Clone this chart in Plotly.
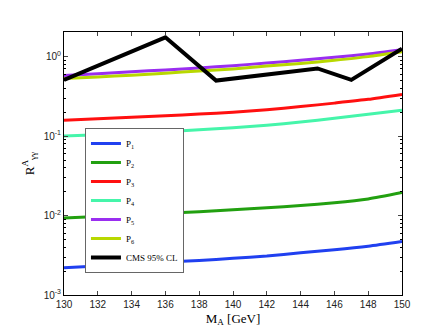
import plotly.graph_objs as go

# masses (GeV)
mass = [130, 132, 134, 136, 138, 140, 142, 144, 146, 148, 150]

p1 = [0.0022, 0.00232, 0.00245, 0.0026, 0.00272, 0.0029, 0.0031, 0.0034, 0.0037, 0.0041, 0.0047]
p2 = [0.0093, 0.0097, 0.0101, 0.0106, 0.0112, 0.0118, 0.0125, 0.0134, 0.0145, 0.0162, 0.0195]
p3 = [0.158, 0.165, 0.172, 0.180, 0.189, 0.200, 0.215, 0.235, 0.26, 0.29, 0.335]
p4 = [0.100, 0.104, 0.109, 0.114, 0.120, 0.127, 0.137, 0.150, 0.168, 0.188, 0.212]
p5 = [0.58, 0.61, 0.645, 0.68, 0.72, 0.77, 0.83, 0.90, 0.98, 1.08, 1.22]
p6 = [0.53, 0.555, 0.585, 0.62, 0.66, 0.70, 0.76, 0.82, 0.90, 1.0, 1.15]

cms_mass = [130, 136, 139, 145, 147, 150]
cms_limit = [0.51, 1.75, 0.50, 0.71, 0.51, 1.26]

y_tickvals = [0.001, 0.01, 0.1, 1]
y_ticktext = ["10<sup>-3</sup>", "10<sup>-2</sup>", "10<sup>-1</sup>", "10<sup>0</sup>"]

series = [
  ("P<sub>1</sub>", p1, "#2040f0"),
  ("P<sub>2</sub>", p2, "#22a010"),
  ("P<sub>3</sub>", p3, "#ff1010"),
  ("P<sub>4</sub>", p4, "#45f5aa"),
  ("P<sub>5</sub>", p5, "#9a2ef0"),
  ("P<sub>6</sub>", p6, "#b8d800"),
]

fig = go.Figure()
for name, vals, col in series:
  fig.add_trace(go.Scatter(x=mass, y=vals, name=name, mode="lines",
                           line=dict(color=col, width=3, shape="spline", smoothing=0.6)))
fig.add_trace(go.Scatter(x=cms_mass, y=cms_limit, name="CMS 95% CL", mode="lines",
                         line=dict(color="black", width=4)))

minor_vals = []
for k in [0.001, 0.01, 0.1, 1]:
  for m in range(2, 10):
    minor_vals.append(k * m)

fig.update_layout(
  width=436, height=327,
  margin=dict(l=56, r=42, t=24, b=37),
  paper_bgcolor="white", plot_bgcolor="white",
  font=dict(family="Liberation Sans, Arial", size=10, color="#222222"),
  showlegend=True,
  legend=dict(x=0.062, y=0.635, xanchor="left", yanchor="top",
              bgcolor="white", bordercolor="#666666", borderwidth=1,
              font=dict(family="Liberation Serif, Times New Roman", size=9, color="black"),
              tracegroupgap=0, itemwidth=30),
  xaxis=dict(range=[130, 150], dtick=2, showgrid=False, zeroline=False,
             ticks="inside", ticklen=4, mirror="allticks", showline=True,
             linecolor="black", linewidth=1,
             title=dict(text="M<sub>A</sub> [GeV]", standoff=4,
                        font=dict(family="Liberation Serif, Times New Roman", size=13, color="black"))),
  yaxis=dict(type="log", range=[-3, 0.31], tickvals=y_tickvals, ticktext=y_ticktext,
             showgrid=False, zeroline=False, ticks="inside", ticklen=4,
             mirror="allticks", showline=True, linecolor="black", linewidth=1,
             minor=dict(ticks="inside", ticklen=2, tickvals=minor_vals, tickcolor="black"),
             title=dict(text="R<sup>A</sup><sub>γγ</sub>", standoff=6,
                        font=dict(family="Liberation Serif, Times New Roman", size=13, color="black"))),
)

fig.write_html("out.html")
